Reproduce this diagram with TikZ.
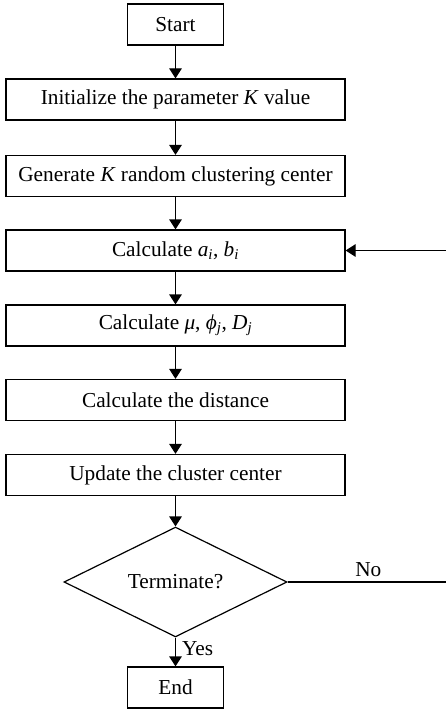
\documentclass[tikz,border=0pt]{standalone}
\usepackage{fontspec}
\setmainfont{Liberation Serif}
\usetikzlibrary{arrows.meta,shapes.geometric}
\newcommand\subv[2]{\textit{#1}\textsubscript{\textit{#2}}}
\begin{document}
\begin{tikzpicture}[x=1pt,y=-1pt,
  every node/.style={font=\fontsize{21.3}{25}\selectfont},
  stepbox/.style={draw, line width=1.2pt, minimum height=41pt, inner sep=0pt},
  widebox/.style={stepbox, minimum width=339pt},
  narrowbox/.style={stepbox, minimum width=96pt},
  decision/.style={draw, diamond, line width=1.2pt, minimum width=223pt, minimum height=104pt, inner sep=0pt},
  flow/.style={line width=1.2pt, -{Triangle[length=10pt,width=12.5pt]}},
  plain/.style={line width=1.2pt}]
\useasboundingbox (0,0) rectangle (446,709);
\node[narrowbox] (start) at (175.5,24.5) {Start};
\node[widebox] (init) at (175.5,99.5) {Initialize the parameter \textit{K} value};
\node[widebox] (gen) at (175.5,176) {Generate \textit{K} random clustering center};
\node[widebox] (ab) at (175.5,250.5) {Calculate \subv{a}{i}, \subv{b}{i}};
\node[widebox] (mu) at (175.5,325.5) {Calculate \textit{μ}, \subv{ϕ}{j}, \subv{D}{j}};
\node[widebox] (dist) at (175.5,400) {Calculate the distance};
\node[widebox] (upd) at (175.5,475) {Update the cluster center};
\node[decision] (term) at (175.5,582) {Terminate?};
\node[narrowbox] (end) at (175.5,687.5) {End};
\coordinate (loopdn) at (449,582);
\coordinate (loopup) at (449,250.5);
\draw[flow] (start) -- (init);
\draw[flow] (init) -- (gen);
\draw[flow] (gen) -- (ab);
\draw[flow] (ab) -- (mu);
\draw[flow] (mu) -- (dist);
\draw[flow] (dist) -- (upd);
\draw[flow] (upd) -- (term);
\draw[flow] (term) -- node[right, pos=0.4, inner sep=6pt] (yes) {Yes} (end);
\draw[plain] (term.east) -- node[above, pos=0.5, inner sep=5pt] (no) {No} (loopdn) -- (loopup);
\draw[flow] (loopup) -- (ab.east);
\end{tikzpicture}
\end{document}
